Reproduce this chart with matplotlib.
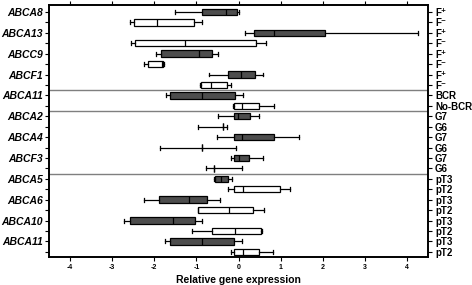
import matplotlib
matplotlib.use("Agg")
import matplotlib.pyplot as plt

plt.rcParams['font.family'] = ['Liberation Sans', 'DejaVu Sans']

# gene names, one per pair of rows
genes = ["ABCA8", "ABCA13", "ABCC9", "ABCF1", "ABCA11", "ABCA2",
         "ABCA4", "ABCF3", "ABCA5", "ABCA6", "ABCA10", "ABCA11"]

# group label of each row (right side)
groups = ["F\u207a", "F\u207b", "F\u207a", "F\u207b", "F\u207a", "F\u207b",
          "F\u207a", "F\u207b", "BCR", "No-BCR", "G7", "G6", "G7", "G6",
          "G7", "G6", "pT3", "pT2", "pT3", "pT2", "pT3", "pT2", "pT3", "pT2"]

# box statistics, one per row
whislo = [-1.51, -2.57, 0.15, -2.55, -1.97, -2.24, -0.70, -0.91,
          -1.73, -0.14, -0.49, -0.97, -0.52, -1.86, -0.19, -0.77,
          -0.59, -0.26, -2.25, -0.96, -2.73, -1.10, -1.74, -0.17]
q1 = [-0.88, -2.48, 0.37, -2.47, -1.84, -2.16, -0.26, -0.90,
      -1.62, -0.12, -0.12, -0.36, -0.10, -0.87, -0.10, -0.59,
      -0.57, -0.11, -1.90, -0.96, -2.58, -0.63, -1.63, -0.12]
med = [-0.30, -1.93, 0.83, -1.27, -0.94, -1.83, 0.05, -0.66,
       -0.88, 0.07, -0.02, -0.36, 0.07, -0.87, 0.00, -0.59,
       -0.42, 0.11, -1.18, -0.23, -1.56, -0.08, -0.87, 0.10]
q3 = [-0.03, -1.05, 2.05, 0.41, -0.64, -1.80, 0.39, -0.28,
      -0.09, 0.48, 0.28, -0.36, 0.84, -0.87, 0.25, -0.59,
      -0.26, 0.99, -0.74, 0.34, -1.04, 0.54, -0.11, 0.48]
whishi = [0.02, -0.86, 4.26, 0.64, -0.49, -1.78, 0.59, -0.18,
          0.11, 0.83, 0.49, -0.27, 1.43, -0.05, 0.57, 0.07,
          -0.16, 1.22, -0.43, 0.61, -0.87, 0.56, 0.07, 0.82]

stats = []
for i in range(len(groups)):
    stats.append({"whislo": whislo[i], "q1": q1[i], "med": med[i],
                  "q3": q3[i], "whishi": whishi[i], "fliers": []})

fig = plt.figure(figsize=(4.72, 2.85), dpi=100)
ax = fig.add_axes([0.104, 0.098, 0.803, 0.884])

rows = list(range(len(groups)))
bp = ax.bxp(stats, positions=rows, vert=False, widths=0.62, capwidths=0.38,
            patch_artist=True, showfliers=False,
            boxprops=dict(linewidth=0.9, edgecolor="black"),
            medianprops=dict(color="black", linewidth=0.9),
            whiskerprops=dict(color="black", linewidth=0.9),
            capprops=dict(color="black", linewidth=0.9))
for i, patch in enumerate(bp["boxes"]):
    patch.set_facecolor("#4d4d4d" if i % 2 == 0 else "white")

# separators between the groups
for y in [7.5, 9.5, 15.5]:
    ax.axhline(y, color="#7f7f7f", linewidth=1.0)

ax.set_xlim(-4.5, 4.5)
ax.set_ylim(23.5, -0.65)
ax.set_xticks(range(-4, 5))
ax.set_xticklabels([str(v) for v in range(-4, 5)], fontsize=5, fontweight="bold")
ax.tick_params(axis="x", top=True, direction="out", length=3, width=0.8, pad=2)
ax.set_xlabel("Relative gene expression", fontsize=7.5, fontweight="bold", labelpad=3)

ax.set_yticks(rows)
ax.set_yticklabels([genes[i // 2] if i % 2 == 0 else "" for i in rows],
                   fontsize=7.5, fontweight="bold", fontstyle="italic")
ax.tick_params(axis="y", direction="out", length=3, width=0.8, pad=1.5)

ax2 = ax.twinx()
ax2.set_ylim(ax.get_ylim())
ax2.set_yticks(rows)
ax2.set_yticklabels(groups, fontsize=7, fontweight="bold")
ax2.tick_params(axis="y", direction="out", length=3, width=0.8, pad=2)

for a in (ax, ax2):
    for s in a.spines.values():
        s.set_linewidth(1.2)

fig.savefig("out.png", dpi=100)
